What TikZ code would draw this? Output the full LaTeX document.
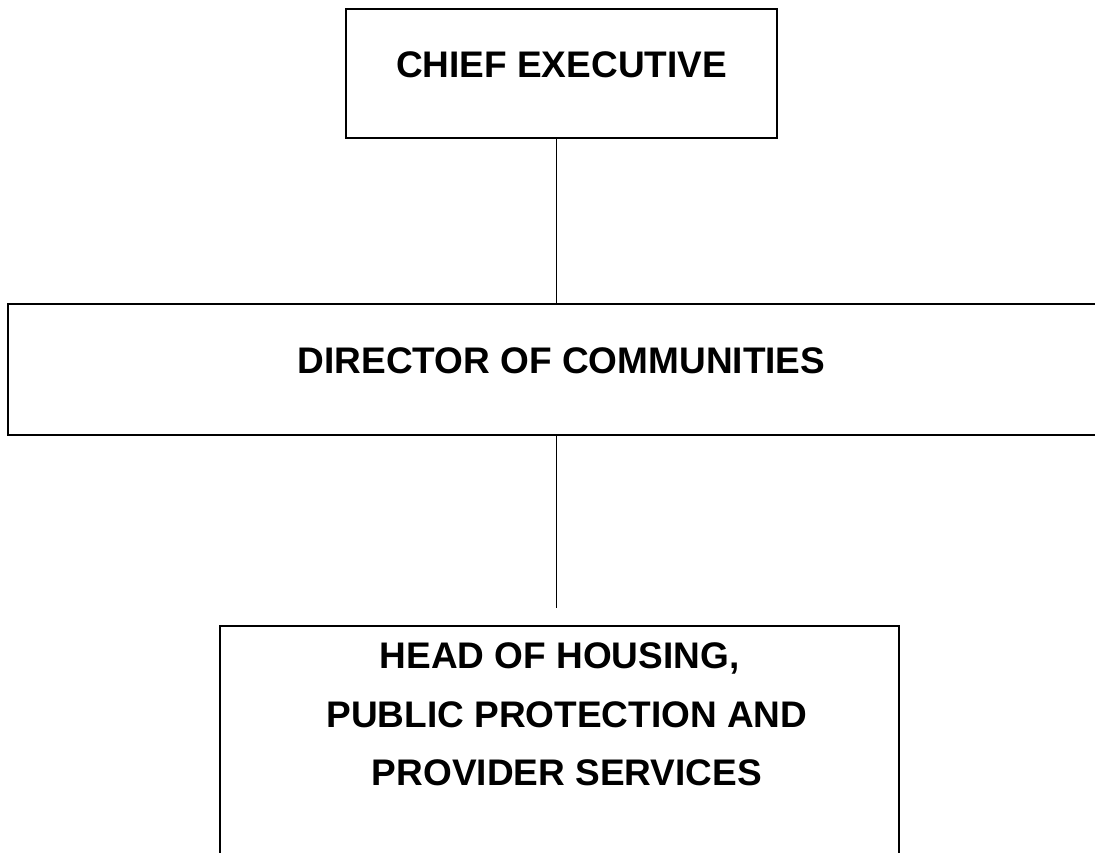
\documentclass[tikz,border=0pt]{standalone}
\usepackage{fontspec}
\setmainfont{Liberation Sans}
\tikzset{
post/.style={draw, line width=1.4pt, rectangle, inner sep=0pt},
title/.style={inner sep=0pt, align=center, font=\bfseries\fontsize{37}{58.5}\selectfont},
link/.style={line width=1pt}}

\begin{document}
\begin{tikzpicture}[x=1pt,y=-1pt]
    \useasboundingbox (0,0) rectangle (1095,852);
    \clip (0,0) rectangle (1095,852);

                \node[post, minimum width=431pt, minimum height=129pt,
                      label={[title, name=ceo-text, yshift=8.5pt]center:CHIEF EXECUTIVE}] (ceo) at (561.5,73.5) {};
                \node[post, minimum width=1107pt, minimum height=131pt,
                      label={[title, name=dir-text, yshift=9pt]center:DIRECTOR OF COMMUNITIES}] (dir) at (561.5,369.5) {};
                \node[post, minimum width=679pt, minimum height=254pt,
                      label={[title, name=head-text, yshift=38.5pt]center:{HEAD OF HOUSING,\\\hspace*{.4em}PUBLIC PROTECTION AND\\\hspace*{.4em}PROVIDER SERVICES}}] (head) at (559.5,753) {};

                \coordinate (drop) at (556.5,608);

                \draw[link] (drop |- ceo.south) -- (drop |- dir.north);
                \draw[link] (drop |- dir.south) -- (drop);

            \end{tikzpicture}
\end{document}
